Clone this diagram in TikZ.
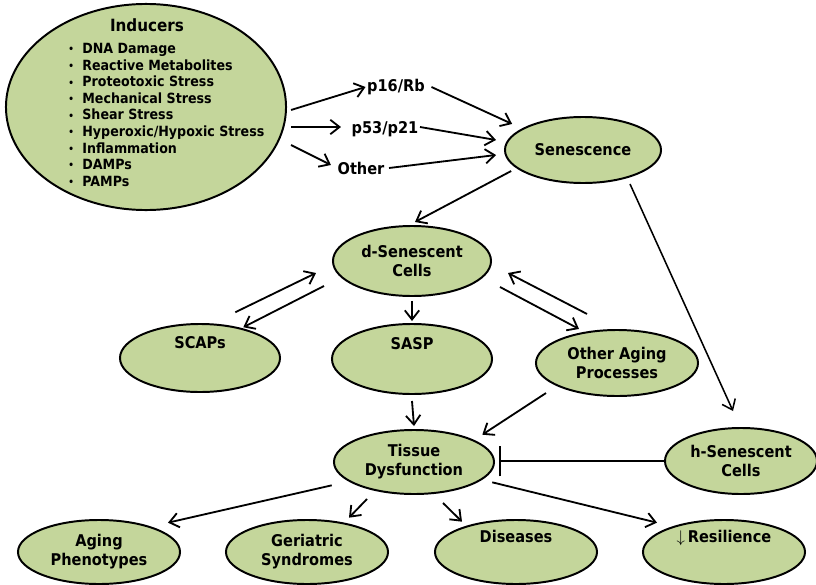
\documentclass[tikz,border=0pt]{standalone}
\usepackage{fontspec}
\setmainfont{DejaVu Sans Condensed}
\usepackage{tikz}
\usetikzlibrary{shapes.geometric,arrows.meta}

\definecolor{cellgreen}{RGB}{196,214,155}

\begin{document}
\begin{tikzpicture}[x=0.025cm, y=-0.025cm,
    cell/.style={ellipse, draw, line width=1.4pt, fill=cellgreen, inner sep=0pt,
        minimum width=4cm, minimum height=1.65cm, align=center,
        font=\bfseries\fontsize{11.5}{13.5}\selectfont},
    tag/.style={font=\bfseries\fontsize{11.5}{13.5}\selectfont, inner sep=1pt},
    arr/.style={-{Straight Barb[length=2.3mm,width=3.6mm]}, line width=1.3pt}]

    \useasboundingbox (0,0) rectangle (816,585);
    \def\bul{\raisebox{0.5pt}{\scriptsize\textbullet}\hspace{6pt}}

    % Inducers
    \node[cell, minimum width=7cm, minimum height=5.15cm] (ind) at (146,107) {};
    \node[font=\bfseries\fontsize{12}{14}\selectfont] (indtitle) at (147,25) {Inducers};
    \node[anchor=north west, align=left, inner sep=0pt,
          font=\bfseries\fontsize{10}{11.8}\selectfont] (indlist) at (68,43)
        {\bul DNA Damage\\ \bul Reactive Metabolites\\ \bul Proteotoxic Stress\\
         \bul Mechanical Stress\\ \bul Shear Stress\\ \bul Hyperoxic/Hypoxic Stress\\
         \bul Inflammation\\ \bul DAMPs\\ \bul PAMPs};

    % Pathways and senescence
    \node[tag] (p16) at (396,87) {p16/Rb};
    \node[tag] (p53) at (385,129) {p53/p21};
    \node[tag] (oth) at (361,168) {Other};
    \node[cell, minimum width=3.9cm] (sen) at (583,150) {Senescence};

    % Senescent cells and what they drive
    \node[cell, minimum width=3.95cm, minimum height=1.75cm] (dsen) at (412,261) {d-Senescent\\Cells};
    \node[cell, minimum height=1.7cm] (scaps) at (200,358) {SCAPs\\[5pt]\strut};
    \node[cell, minimum height=1.75cm] (sasp) at (412,359) {SASP\\[5pt]\strut};
    \node[cell, minimum width=4.05cm] (other) at (617,363) {Other Aging\\Processes};
    \node[cell, minimum height=1.6cm] (tissue) at (414,462) {Tissue\\Dysfunction};
    \node[cell, minimum width=3.8cm] (hsen) at (741,461) {h-Senescent\\Cells};

    % Outcomes
    \node[cell, minimum width=4.05cm, minimum height=1.6cm] (aging) at (99,552) {Aging\\Phenotypes};
    \node[cell, minimum width=4.05cm, minimum height=1.6cm] (geri) at (307,552) {Geriatric\\Syndromes};
    \node[cell, minimum width=4.05cm, minimum height=1.6cm] (dis) at (516,552) {Diseases\\[5pt]\strut};
    \node[cell, minimum width=4.05cm, minimum height=1.6cm] (res) at (724,552) {$\downarrow$\,Resilience\\[5pt]\strut};

    % Inducers to pathways
    \draw[arr] ([shift={(4,3)}]ind.east) -- (p16.west);
    \draw[arr] ([shift={(4,20)}]ind.east) -- ([shift={(-9,-2)}]p53.west);
    \draw[arr] ([shift={(4,38)}]ind.east) -- ([shift={(-5,-3)}]oth.west);

    % Pathways to senescence
    \draw[arr] ([shift={(5,0)}]p16.east) -- ([shift={(-15,-2)}]sen.north west);
    \draw[arr] ([shift={(0,-2)}]p53.east) -- ([shift={(-8,-10)}]sen.west);
    \draw[arr] ([shift={(3,0)}]oth.east) -- ([shift={(-8,5)}]sen.west);

    % Senescence to cell states
    \draw[arr] ([shift={(-16,-3)}]sen.south west) -- ([shift={(3,-3)}]dsen.north);
    \draw[arr, line width=1.1pt] ([shift={(47,0)}]sen.south) -- ([shift={(-8,-16)}]hsen.north);

    % Exchange with SCAPs and other processes
    \draw[arr] ([shift={(-22,-21)}]scaps.north east) -- ([shift={(-16,12)}]dsen.west);
    \draw[arr] ([shift={(-8,25)}]dsen.west) -- ([shift={(-14,-6)}]scaps.north east);
    \draw[arr] ([shift={(28,-25)}]other.north west) -- ([shift={(16,12)}]dsen.east);
    \draw[arr] ([shift={(8,26)}]dsen.east) -- ([shift={(20,-10)}]other.north west);
    \draw[arr] ([shift={(0,4)}]dsen.south) -- ([shift={(0,-2)}]sasp.north);

    % Into tissue dysfunction
    \draw[arr] ([shift={(0,6)}]sasp.south) -- ([shift={(0,-3)}]tissue.north);
    \draw[arr] ([shift={(-13,6)}]other.south west) -- ([shift={(11,-4)}]tissue.north east);
    \draw[-{Bar[width=22pt]}, line width=1.4pt] (hsen.west) -- ([shift={(4,-1)}]tissue.east);

    % Outcomes of tissue dysfunction
    \draw[arr] ([shift={(-25,0)}]tissue.south west) -- ([shift={(11,-6)}]aging.north east);
    \draw[arr] ([shift={(-47,4)}]tissue.south) -- ([shift={(-16,-11)}]geri.north east);
    \draw[arr] ([shift={(29,8)}]tissue.south) -- ([shift={(4,-7)}]dis.north west);
    \draw[arr] ([shift={(21,-3)}]tissue.south east) -- ([shift={(-9,-6)}]res.north west);
\end{tikzpicture}
\end{document}
